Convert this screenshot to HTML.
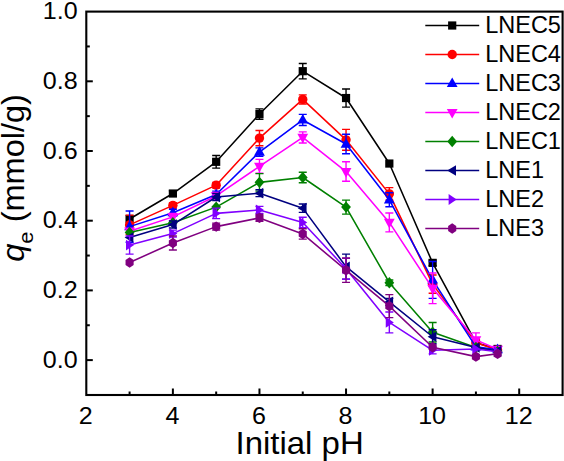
<!DOCTYPE html>
<html><head><meta charset="utf-8"><style>
html,body{margin:0;padding:0;background:#fff;width:564px;height:461px;overflow:hidden}
svg{display:block}
</style></head><body>
<svg width="564" height="461" viewBox="0 0 564 461">
<style>
text{font-family:"Liberation Sans",sans-serif;fill:#000}
.tk{font-size:23.5px}
.lg{font-size:23.5px}
.tt{font-size:32px}
.ty{font-size:31px}
</style>
<rect width="564" height="461" fill="#fff"/>
<polyline points="129.59,218.96 172.88,193.52 216.17,161.80 259.46,114.06 302.75,71.19 346.04,98.03 389.33,163.55 432.62,262.87 475.91,342.68 497.56,348.95" fill="none" stroke="#000000" stroke-width="1.55" stroke-linejoin="round"/>
<path d="M172.88,190.73V196.31M168.88,190.73H176.88M168.88,196.31H176.88" stroke="#000000" stroke-width="1.4" fill="none"/>
<path d="M216.17,155.53V168.08M212.17,155.53H220.17M212.17,168.08H220.17" stroke="#000000" stroke-width="1.4" fill="none"/>
<path d="M259.46,108.83V119.29M255.46,108.83H263.46M255.46,119.29H263.46" stroke="#000000" stroke-width="1.4" fill="none"/>
<path d="M302.75,63.53V78.86M298.75,63.53H306.75M298.75,78.86H306.75" stroke="#000000" stroke-width="1.4" fill="none"/>
<path d="M346.04,88.97V107.09M342.04,88.97H350.04M342.04,107.09H350.04" stroke="#000000" stroke-width="1.4" fill="none"/>
<path d="M432.62,260.08V265.66M428.62,260.08H436.62M428.62,265.66H436.62" stroke="#000000" stroke-width="1.4" fill="none"/>
<rect x="125.49" y="214.86" width="8.20" height="8.20" fill="#000000"/>
<rect x="168.78" y="189.42" width="8.20" height="8.20" fill="#000000"/>
<rect x="212.07" y="157.70" width="8.20" height="8.20" fill="#000000"/>
<rect x="255.36" y="109.96" width="8.20" height="8.20" fill="#000000"/>
<rect x="298.65" y="67.09" width="8.20" height="8.20" fill="#000000"/>
<rect x="341.94" y="93.93" width="8.20" height="8.20" fill="#000000"/>
<rect x="385.23" y="159.45" width="8.20" height="8.20" fill="#000000"/>
<rect x="428.52" y="258.77" width="8.20" height="8.20" fill="#000000"/>
<rect x="471.81" y="338.57" width="8.20" height="8.20" fill="#000000"/>
<rect x="493.45" y="344.85" width="8.20" height="8.20" fill="#000000"/>
<polyline points="129.59,224.88 172.88,205.37 216.17,185.15 259.46,138.11 302.75,99.42 346.04,139.85 389.33,193.87 432.62,284.13 475.91,342.68 497.56,349.99" fill="none" stroke="#ff0000" stroke-width="1.55" stroke-linejoin="round"/>
<path d="M129.59,215.12V234.64M125.59,215.12H133.59M125.59,234.64H133.59" stroke="#ff0000" stroke-width="1.4" fill="none"/>
<path d="M172.88,202.58V208.15M168.88,202.58H176.88M168.88,208.15H176.88" stroke="#ff0000" stroke-width="1.4" fill="none"/>
<path d="M216.17,182.37V187.94M212.17,182.37H220.17M212.17,187.94H220.17" stroke="#ff0000" stroke-width="1.4" fill="none"/>
<path d="M259.46,130.44V145.77M255.46,130.44H263.46M255.46,145.77H263.46" stroke="#ff0000" stroke-width="1.4" fill="none"/>
<path d="M302.75,94.89V103.95M298.75,94.89H306.75M298.75,103.95H306.75" stroke="#ff0000" stroke-width="1.4" fill="none"/>
<path d="M346.04,129.39V150.30M342.04,129.39H350.04M342.04,150.30H350.04" stroke="#ff0000" stroke-width="1.4" fill="none"/>
<path d="M389.33,187.59V200.14M385.33,187.59H393.33M385.33,200.14H393.33" stroke="#ff0000" stroke-width="1.4" fill="none"/>
<path d="M432.62,275.07V293.19M428.62,275.07H436.62M428.62,293.19H436.62" stroke="#ff0000" stroke-width="1.4" fill="none"/>
<path d="M475.91,339.19V346.16M471.91,339.19H479.91M471.91,346.16H479.91" stroke="#ff0000" stroke-width="1.4" fill="none"/>
<circle cx="129.59" cy="224.88" r="4.7" fill="#ff0000"/>
<circle cx="172.88" cy="205.37" r="4.7" fill="#ff0000"/>
<circle cx="216.17" cy="185.15" r="4.7" fill="#ff0000"/>
<circle cx="259.46" cy="138.11" r="4.7" fill="#ff0000"/>
<circle cx="302.75" cy="99.42" r="4.7" fill="#ff0000"/>
<circle cx="346.04" cy="139.85" r="4.7" fill="#ff0000"/>
<circle cx="389.33" cy="193.87" r="4.7" fill="#ff0000"/>
<circle cx="432.62" cy="284.13" r="4.7" fill="#ff0000"/>
<circle cx="475.91" cy="342.68" r="4.7" fill="#ff0000"/>
<circle cx="497.56" cy="349.99" r="4.7" fill="#ff0000"/>
<polyline points="129.59,226.62 172.88,212.68 216.17,194.56 259.46,152.05 302.75,119.98 346.04,144.03 389.33,199.79 432.62,279.95 475.91,346.86 497.56,349.65" fill="none" stroke="#0000ff" stroke-width="1.55" stroke-linejoin="round"/>
<path d="M129.59,210.94V242.31M125.59,210.94H133.59M125.59,242.31H133.59" stroke="#0000ff" stroke-width="1.4" fill="none"/>
<path d="M172.88,209.20V216.17M168.88,209.20H176.88M168.88,216.17H176.88" stroke="#0000ff" stroke-width="1.4" fill="none"/>
<path d="M216.17,191.08V198.05M212.17,191.08H220.17M212.17,198.05H220.17" stroke="#0000ff" stroke-width="1.4" fill="none"/>
<path d="M259.46,147.86V156.23M255.46,147.86H263.46M255.46,156.23H263.46" stroke="#0000ff" stroke-width="1.4" fill="none"/>
<path d="M302.75,114.41V125.56M298.75,114.41H306.75M298.75,125.56H306.75" stroke="#0000ff" stroke-width="1.4" fill="none"/>
<path d="M346.04,134.27V153.79M342.04,134.27H350.04M342.04,153.79H350.04" stroke="#0000ff" stroke-width="1.4" fill="none"/>
<path d="M389.33,192.82V206.76M385.33,192.82H393.33M385.33,206.76H393.33" stroke="#0000ff" stroke-width="1.4" fill="none"/>
<path d="M432.62,261.47V298.42M428.62,261.47H436.62M428.62,298.42H436.62" stroke="#0000ff" stroke-width="1.4" fill="none"/>
<polygon points="129.59,220.52 134.99,230.22 124.19,230.22" fill="#0000ff"/>
<polygon points="172.88,206.58 178.28,216.28 167.48,216.28" fill="#0000ff"/>
<polygon points="216.17,188.46 221.57,198.16 210.77,198.16" fill="#0000ff"/>
<polygon points="259.46,145.95 264.86,155.65 254.06,155.65" fill="#0000ff"/>
<polygon points="302.75,113.88 308.15,123.58 297.35,123.58" fill="#0000ff"/>
<polygon points="346.04,137.93 351.44,147.63 340.64,147.63" fill="#0000ff"/>
<polygon points="389.33,193.69 394.73,203.39 383.93,203.39" fill="#0000ff"/>
<polygon points="432.62,273.85 438.02,283.55 427.22,283.55" fill="#0000ff"/>
<polygon points="475.91,340.76 481.31,350.46 470.51,350.46" fill="#0000ff"/>
<polygon points="497.56,343.55 502.95,353.25 492.16,353.25" fill="#0000ff"/>
<polyline points="129.59,231.16 172.88,216.87 216.17,195.96 259.46,166.33 302.75,137.41 346.04,171.56 389.33,222.44 432.62,288.31 475.91,339.89 497.56,349.30" fill="none" stroke="#ff00ff" stroke-width="1.55" stroke-linejoin="round"/>
<path d="M172.88,213.38V220.35M168.88,213.38H176.88M168.88,220.35H176.88" stroke="#ff00ff" stroke-width="1.4" fill="none"/>
<path d="M216.17,192.47V199.44M212.17,192.47H220.17M212.17,199.44H220.17" stroke="#ff00ff" stroke-width="1.4" fill="none"/>
<path d="M259.46,159.36V173.30M255.46,159.36H263.46M255.46,173.30H263.46" stroke="#ff00ff" stroke-width="1.4" fill="none"/>
<path d="M302.75,131.83V142.98M298.75,131.83H306.75M298.75,142.98H306.75" stroke="#ff00ff" stroke-width="1.4" fill="none"/>
<path d="M346.04,161.80V181.32M342.04,161.80H350.04M342.04,181.32H350.04" stroke="#ff00ff" stroke-width="1.4" fill="none"/>
<path d="M389.33,213.03V231.85M385.33,213.03H393.33M385.33,231.85H393.33" stroke="#ff00ff" stroke-width="1.4" fill="none"/>
<path d="M432.62,272.98V303.64M428.62,272.98H436.62M428.62,303.64H436.62" stroke="#ff00ff" stroke-width="1.4" fill="none"/>
<path d="M475.91,332.92V346.86M471.91,332.92H479.91M471.91,346.86H479.91" stroke="#ff00ff" stroke-width="1.4" fill="none"/>
<polygon points="129.59,237.26 134.99,227.56 124.19,227.56" fill="#ff00ff"/>
<polygon points="172.88,222.97 178.28,213.27 167.48,213.27" fill="#ff00ff"/>
<polygon points="216.17,202.06 221.57,192.36 210.77,192.36" fill="#ff00ff"/>
<polygon points="259.46,172.43 264.86,162.73 254.06,162.73" fill="#ff00ff"/>
<polygon points="302.75,143.51 308.15,133.81 297.35,133.81" fill="#ff00ff"/>
<polygon points="346.04,177.66 351.44,167.96 340.64,167.96" fill="#ff00ff"/>
<polygon points="389.33,228.54 394.73,218.84 383.93,218.84" fill="#ff00ff"/>
<polygon points="432.62,294.41 438.02,284.71 427.22,284.71" fill="#ff00ff"/>
<polygon points="475.91,345.99 481.31,336.29 470.51,336.29" fill="#ff00ff"/>
<polygon points="497.56,355.40 502.95,345.70 492.16,345.70" fill="#ff00ff"/>
<polyline points="129.59,232.55 172.88,222.79 216.17,207.11 259.46,182.37 302.75,177.49 346.04,207.11 389.33,282.73 432.62,332.22 475.91,347.55 497.56,351.39" fill="none" stroke="#008000" stroke-width="1.55" stroke-linejoin="round"/>
<path d="M259.46,173.65V191.08M255.46,173.65H263.46M255.46,191.08H263.46" stroke="#008000" stroke-width="1.4" fill="none"/>
<path d="M302.75,172.26V182.71M298.75,172.26H306.75M298.75,182.71H306.75" stroke="#008000" stroke-width="1.4" fill="none"/>
<path d="M346.04,200.14V214.08M342.04,200.14H350.04M342.04,214.08H350.04" stroke="#008000" stroke-width="1.4" fill="none"/>
<path d="M389.33,279.95V285.52M385.33,279.95H393.33M385.33,285.52H393.33" stroke="#008000" stroke-width="1.4" fill="none"/>
<path d="M432.62,322.46V341.98M428.62,322.46H436.62M428.62,341.98H436.62" stroke="#008000" stroke-width="1.4" fill="none"/>
<polygon points="129.59,226.85 134.49,232.55 129.59,238.25 124.69,232.55" fill="#008000"/>
<polygon points="172.88,217.09 177.78,222.79 172.88,228.49 167.98,222.79" fill="#008000"/>
<polygon points="216.17,201.41 221.07,207.11 216.17,212.81 211.27,207.11" fill="#008000"/>
<polygon points="259.46,176.67 264.36,182.37 259.46,188.06 254.56,182.37" fill="#008000"/>
<polygon points="302.75,171.79 307.65,177.49 302.75,183.19 297.85,177.49" fill="#008000"/>
<polygon points="346.04,201.41 350.94,207.11 346.04,212.81 341.14,207.11" fill="#008000"/>
<polygon points="389.33,277.03 394.23,282.73 389.33,288.43 384.43,282.73" fill="#008000"/>
<polygon points="432.62,326.52 437.52,332.22 432.62,337.92 427.72,332.22" fill="#008000"/>
<polygon points="475.91,341.85 480.81,347.55 475.91,353.25 471.01,347.55" fill="#008000"/>
<polygon points="497.56,345.69 502.45,351.39 497.56,357.09 492.66,351.39" fill="#008000"/>
<polyline points="129.59,237.43 172.88,224.53 216.17,197.00 259.46,193.17 302.75,208.15 346.04,266.70 389.33,301.90 432.62,336.75 475.91,347.55 497.56,351.04" fill="none" stroke="#000080" stroke-width="1.55" stroke-linejoin="round"/>
<path d="M172.88,221.05V228.02M168.88,221.05H176.88M168.88,228.02H176.88" stroke="#000080" stroke-width="1.4" fill="none"/>
<path d="M216.17,193.52V200.49M212.17,193.52H220.17M212.17,200.49H220.17" stroke="#000080" stroke-width="1.4" fill="none"/>
<path d="M259.46,189.68V196.65M255.46,189.68H263.46M255.46,196.65H263.46" stroke="#000080" stroke-width="1.4" fill="none"/>
<path d="M302.75,203.97V212.34M298.75,203.97H306.75M298.75,212.34H306.75" stroke="#000080" stroke-width="1.4" fill="none"/>
<path d="M346.04,254.16V279.25M342.04,254.16H350.04M342.04,279.25H350.04" stroke="#000080" stroke-width="1.4" fill="none"/>
<path d="M389.33,298.42V305.39M385.33,298.42H393.33M385.33,305.39H393.33" stroke="#000080" stroke-width="1.4" fill="none"/>
<path d="M432.62,329.78V343.72M428.62,329.78H436.62M428.62,343.72H436.62" stroke="#000080" stroke-width="1.4" fill="none"/>
<polygon points="124.59,237.43 133.39,232.13 133.39,242.73" fill="#000080"/>
<polygon points="167.88,224.53 176.68,219.23 176.68,229.83" fill="#000080"/>
<polygon points="211.17,197.00 219.97,191.70 219.97,202.30" fill="#000080"/>
<polygon points="254.46,193.17 263.26,187.87 263.26,198.47" fill="#000080"/>
<polygon points="297.75,208.15 306.55,202.85 306.55,213.45" fill="#000080"/>
<polygon points="341.04,266.70 349.84,261.40 349.84,272.00" fill="#000080"/>
<polygon points="384.33,301.90 393.13,296.60 393.13,307.20" fill="#000080"/>
<polygon points="427.62,336.75 436.42,331.45 436.42,342.05" fill="#000080"/>
<polygon points="470.91,347.55 479.71,342.25 479.71,352.85" fill="#000080"/>
<polygon points="492.56,351.04 501.36,345.74 501.36,356.34" fill="#000080"/>
<polyline points="129.59,245.10 172.88,233.59 216.17,213.38 259.46,209.90 302.75,222.44 346.04,268.79 389.33,322.46 432.62,350.34 475.91,348.95 497.56,351.74" fill="none" stroke="#8000ff" stroke-width="1.55" stroke-linejoin="round"/>
<path d="M129.59,236.03V254.16M125.59,236.03H133.59M125.59,254.16H133.59" stroke="#8000ff" stroke-width="1.4" fill="none"/>
<path d="M172.88,230.11V237.08M168.88,230.11H176.88M168.88,237.08H176.88" stroke="#8000ff" stroke-width="1.4" fill="none"/>
<path d="M216.17,208.15V218.61M212.17,208.15H220.17M212.17,218.61H220.17" stroke="#8000ff" stroke-width="1.4" fill="none"/>
<path d="M259.46,206.41V213.38M255.46,206.41H263.46M255.46,213.38H263.46" stroke="#8000ff" stroke-width="1.4" fill="none"/>
<path d="M302.75,217.22V227.67M298.75,217.22H306.75M298.75,227.67H306.75" stroke="#8000ff" stroke-width="1.4" fill="none"/>
<path d="M346.04,258.34V279.25M342.04,258.34H350.04M342.04,279.25H350.04" stroke="#8000ff" stroke-width="1.4" fill="none"/>
<path d="M389.33,312.01V332.92M385.33,312.01H393.33M385.33,332.92H393.33" stroke="#8000ff" stroke-width="1.4" fill="none"/>
<path d="M432.62,346.86V353.83M428.62,346.86H436.62M428.62,353.83H436.62" stroke="#8000ff" stroke-width="1.4" fill="none"/>
<polygon points="134.09,245.10 125.99,239.70 125.99,250.50" fill="#8000ff"/>
<polygon points="177.38,233.59 169.28,228.19 169.28,238.99" fill="#8000ff"/>
<polygon points="220.67,213.38 212.57,207.98 212.57,218.78" fill="#8000ff"/>
<polygon points="263.96,209.90 255.86,204.50 255.86,215.30" fill="#8000ff"/>
<polygon points="307.25,222.44 299.15,217.04 299.15,227.84" fill="#8000ff"/>
<polygon points="350.54,268.79 342.44,263.39 342.44,274.19" fill="#8000ff"/>
<polygon points="393.83,322.46 385.73,317.06 385.73,327.86" fill="#8000ff"/>
<polygon points="437.12,350.34 429.02,344.94 429.02,355.74" fill="#8000ff"/>
<polygon points="480.41,348.95 472.31,343.55 472.31,354.35" fill="#8000ff"/>
<polygon points="502.06,351.74 493.95,346.34 493.95,357.14" fill="#8000ff"/>
<polyline points="129.59,262.52 172.88,243.00 216.17,226.62 259.46,217.91 302.75,233.94 346.04,270.19 389.33,306.08 432.62,347.21 475.91,356.62 497.56,353.83" fill="none" stroke="#800080" stroke-width="1.55" stroke-linejoin="round"/>
<path d="M172.88,236.03V249.97M168.88,236.03H176.88M168.88,249.97H176.88" stroke="#800080" stroke-width="1.4" fill="none"/>
<path d="M216.17,223.14V230.11M212.17,223.14H220.17M212.17,230.11H220.17" stroke="#800080" stroke-width="1.4" fill="none"/>
<path d="M259.46,214.43V221.40M255.46,214.43H263.46M255.46,221.40H263.46" stroke="#800080" stroke-width="1.4" fill="none"/>
<path d="M302.75,228.72V239.17M298.75,228.72H306.75M298.75,239.17H306.75" stroke="#800080" stroke-width="1.4" fill="none"/>
<path d="M346.04,257.99V282.38M342.04,257.99H350.04M342.04,282.38H350.04" stroke="#800080" stroke-width="1.4" fill="none"/>
<path d="M389.33,294.58V317.58M385.33,294.58H393.33M385.33,317.58H393.33" stroke="#800080" stroke-width="1.4" fill="none"/>
<polygon points="129.59,257.32 133.64,259.92 133.64,265.12 129.59,267.72 125.54,265.12 125.54,259.92" fill="#800080"/>
<polygon points="172.88,237.80 176.93,240.40 176.93,245.60 172.88,248.20 168.83,245.60 168.83,240.40" fill="#800080"/>
<polygon points="216.17,221.42 220.22,224.02 220.22,229.22 216.17,231.82 212.12,229.22 212.12,224.02" fill="#800080"/>
<polygon points="259.46,212.71 263.51,215.31 263.51,220.51 259.46,223.11 255.41,220.51 255.41,215.31" fill="#800080"/>
<polygon points="302.75,228.74 306.80,231.34 306.80,236.54 302.75,239.14 298.70,236.54 298.70,231.34" fill="#800080"/>
<polygon points="346.04,264.99 350.09,267.59 350.09,272.79 346.04,275.39 341.99,272.79 341.99,267.59" fill="#800080"/>
<polygon points="389.33,300.88 393.38,303.48 393.38,308.68 389.33,311.28 385.28,308.68 385.28,303.48" fill="#800080"/>
<polygon points="432.62,342.01 436.67,344.61 436.67,349.81 432.62,352.41 428.57,349.81 428.57,344.61" fill="#800080"/>
<polygon points="475.91,351.42 479.96,354.01 479.96,359.22 475.91,361.81 471.86,359.22 471.86,354.01" fill="#800080"/>
<polygon points="497.56,348.63 501.61,351.23 501.61,356.43 497.56,359.03 493.50,356.43 493.50,351.23" fill="#800080"/>
<line x1="425.3" y1="25.50" x2="479.2" y2="25.50" stroke="#000000" stroke-width="1.7"/>
<rect x="448.10" y="21.40" width="8.20" height="8.20" fill="#000000"/>
<text x="485.2" y="33.40" class="lg">LNEC5</text>
<line x1="425.3" y1="54.50" x2="479.2" y2="54.50" stroke="#ff0000" stroke-width="1.7"/>
<circle cx="452.20" cy="54.50" r="4.7" fill="#ff0000"/>
<text x="485.2" y="62.40" class="lg">LNEC4</text>
<line x1="425.3" y1="83.50" x2="479.2" y2="83.50" stroke="#0000ff" stroke-width="1.7"/>
<polygon points="452.20,77.40 457.60,87.10 446.80,87.10" fill="#0000ff"/>
<text x="485.2" y="91.40" class="lg">LNEC3</text>
<line x1="425.3" y1="112.50" x2="479.2" y2="112.50" stroke="#ff00ff" stroke-width="1.7"/>
<polygon points="452.20,118.60 457.60,108.90 446.80,108.90" fill="#ff00ff"/>
<text x="485.2" y="120.40" class="lg">LNEC2</text>
<line x1="425.3" y1="141.50" x2="479.2" y2="141.50" stroke="#008000" stroke-width="1.7"/>
<polygon points="452.20,135.80 457.10,141.50 452.20,147.20 447.30,141.50" fill="#008000"/>
<text x="485.2" y="149.40" class="lg">LNEC1</text>
<line x1="425.3" y1="170.50" x2="479.2" y2="170.50" stroke="#000080" stroke-width="1.7"/>
<polygon points="447.20,170.50 456.00,165.20 456.00,175.80" fill="#000080"/>
<text x="485.2" y="178.40" class="lg">LNE1</text>
<line x1="425.3" y1="199.50" x2="479.2" y2="199.50" stroke="#8000ff" stroke-width="1.7"/>
<polygon points="456.70,199.50 448.60,194.10 448.60,204.90" fill="#8000ff"/>
<text x="485.2" y="207.40" class="lg">LNE2</text>
<line x1="425.3" y1="228.50" x2="479.2" y2="228.50" stroke="#800080" stroke-width="1.7"/>
<polygon points="452.20,223.30 456.25,225.90 456.25,231.10 452.20,233.70 448.15,231.10 448.15,225.90" fill="#800080"/>
<text x="485.2" y="236.40" class="lg">LNE3</text>
<rect x="86.3" y="11.6" width="476.3" height="383.4" fill="none" stroke="#000" stroke-width="2.1"/>
<line x1="86.3" y1="360.10" x2="92.80" y2="360.10" stroke="#000" stroke-width="2"/>
<line x1="86.3" y1="325.25" x2="89.80" y2="325.25" stroke="#000" stroke-width="2"/>
<line x1="86.3" y1="290.40" x2="92.80" y2="290.40" stroke="#000" stroke-width="2"/>
<line x1="86.3" y1="255.55" x2="89.80" y2="255.55" stroke="#000" stroke-width="2"/>
<line x1="86.3" y1="220.70" x2="92.80" y2="220.70" stroke="#000" stroke-width="2"/>
<line x1="86.3" y1="185.85" x2="89.80" y2="185.85" stroke="#000" stroke-width="2"/>
<line x1="86.3" y1="151.00" x2="92.80" y2="151.00" stroke="#000" stroke-width="2"/>
<line x1="86.3" y1="116.15" x2="89.80" y2="116.15" stroke="#000" stroke-width="2"/>
<line x1="86.3" y1="81.30" x2="92.80" y2="81.30" stroke="#000" stroke-width="2"/>
<line x1="86.3" y1="46.45" x2="89.80" y2="46.45" stroke="#000" stroke-width="2"/>
<line x1="129.59" y1="395" x2="129.59" y2="391.50" stroke="#000" stroke-width="2"/>
<line x1="172.88" y1="395" x2="172.88" y2="388.50" stroke="#000" stroke-width="2"/>
<line x1="216.17" y1="395" x2="216.17" y2="391.50" stroke="#000" stroke-width="2"/>
<line x1="259.46" y1="395" x2="259.46" y2="388.50" stroke="#000" stroke-width="2"/>
<line x1="302.75" y1="395" x2="302.75" y2="391.50" stroke="#000" stroke-width="2"/>
<line x1="346.04" y1="395" x2="346.04" y2="388.50" stroke="#000" stroke-width="2"/>
<line x1="389.33" y1="395" x2="389.33" y2="391.50" stroke="#000" stroke-width="2"/>
<line x1="432.62" y1="395" x2="432.62" y2="388.50" stroke="#000" stroke-width="2"/>
<line x1="475.91" y1="395" x2="475.91" y2="391.50" stroke="#000" stroke-width="2"/>
<line x1="519.20" y1="395" x2="519.20" y2="388.50" stroke="#000" stroke-width="2"/>
<text transform="translate(77.6,367.70) scale(1.067,1)" class="tk" text-anchor="end">0.0</text>
<text transform="translate(77.6,298.00) scale(1.067,1)" class="tk" text-anchor="end">0.2</text>
<text transform="translate(77.6,228.30) scale(1.067,1)" class="tk" text-anchor="end">0.4</text>
<text transform="translate(77.6,158.60) scale(1.067,1)" class="tk" text-anchor="end">0.6</text>
<text transform="translate(77.6,88.90) scale(1.067,1)" class="tk" text-anchor="end">0.8</text>
<text transform="translate(77.6,19.20) scale(1.067,1)" class="tk" text-anchor="end">1.0</text>
<text transform="translate(85.80,423.7) scale(1.067,1)" class="tk" text-anchor="middle">2</text>
<text transform="translate(172.38,423.7) scale(1.067,1)" class="tk" text-anchor="middle">4</text>
<text transform="translate(258.96,423.7) scale(1.067,1)" class="tk" text-anchor="middle">6</text>
<text transform="translate(345.54,423.7) scale(1.067,1)" class="tk" text-anchor="middle">8</text>
<text transform="translate(432.12,423.7) scale(1.067,1)" class="tk" text-anchor="middle">10</text>
<text transform="translate(518.70,423.7) scale(1.067,1)" class="tk" text-anchor="middle">12</text>
<text transform="translate(299.6,453.6) scale(1.03,1)" class="tt" text-anchor="middle">Initial pH</text>
<text transform="translate(24,177.9) rotate(-90) scale(1.05,1)" class="ty" text-anchor="middle"><tspan font-style="italic">q</tspan><tspan font-size="21" dy="9">e</tspan><tspan dy="-9"> (mmol/g)</tspan></text>
</svg>
</body></html>
